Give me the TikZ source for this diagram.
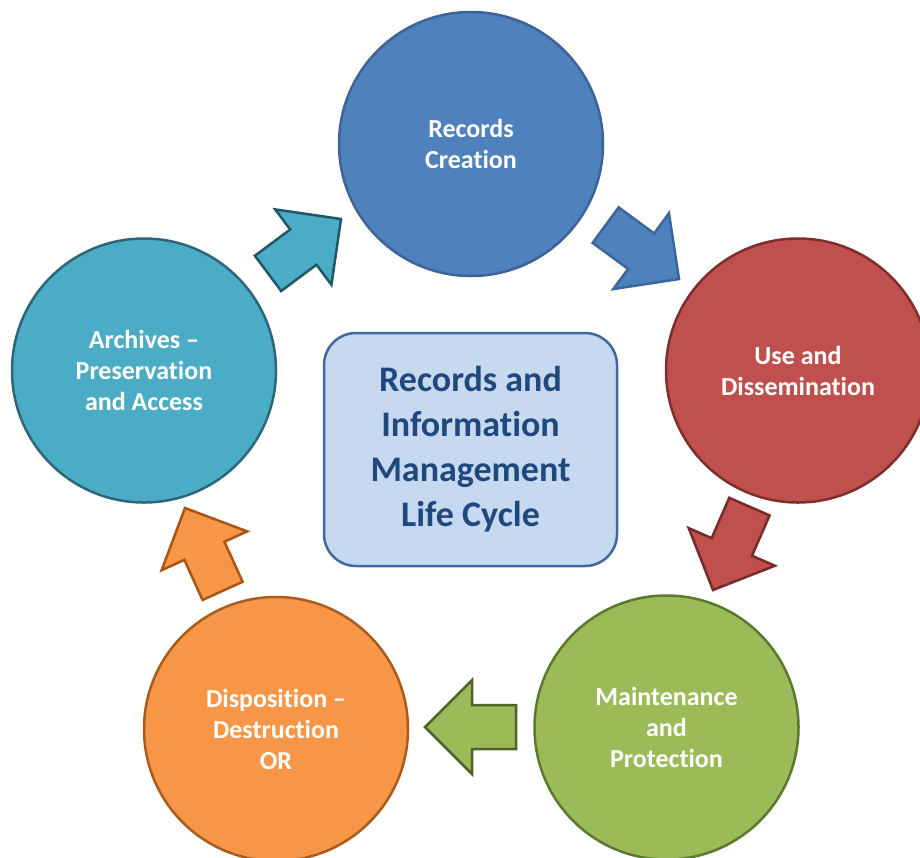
\documentclass[tikz,border=0pt]{standalone}
\usepackage{fontspec}
\setmainfont{Carlito}[Ligatures={NoCommon,NoContextual}]
\definecolor{blueF}{HTML}{4F81BD}
\definecolor{blueD}{HTML}{3D6397}
\definecolor{blueA}{HTML}{3B669C}
\definecolor{redF}{HTML}{C0504D}
\definecolor{redD}{HTML}{7E2E2C}
\definecolor{redA}{HTML}{7A2A28}
\definecolor{greenF}{HTML}{9BBB59}
\definecolor{greenD}{HTML}{5A7A2E}
\definecolor{greenA}{HTML}{4F6228}
\definecolor{orangeF}{HTML}{F79646}
\definecolor{orangeD}{HTML}{A85D1F}
\definecolor{orangeA}{HTML}{A95516}
\definecolor{tealF}{HTML}{4BACC6}
\definecolor{tealD}{HTML}{2C6779}
\definecolor{tealA}{HTML}{205867}
\definecolor{boxF}{HTML}{C6D9F1}
\definecolor{boxD}{HTML}{41699C}
\definecolor{boxT}{HTML}{1F497D}
\begin{document}
\begin{tikzpicture}[x=1pt,y=-1pt,
  stage/.style={circle, minimum size=264pt, inner sep=0pt, line width=2.5pt,
    align=center, text=white, font=\fontsize{26}{31}\selectfont\bfseries},
  blockarrow/.style={line width=2.5pt, line join=miter},
  centerbox/.style={rounded corners=32pt, minimum width=293pt, minimum height=233pt,
    inner sep=0pt, line width=2.5pt, fill=boxF, draw=boxD, align=center, text=boxT,
    font=\fontsize{36}{45}\selectfont\bfseries}]
\clip (0,0) rectangle (920,857);
\fill[white] (0,0) rectangle (920,857);

% stages
\node[stage, fill=blueF, draw=blueD] (creation) at (471,144) {Records\\Creation};
\node[stage, fill=redF, draw=redD] (use) at (798,370.5) {Use and\\Dissemination};
\node[stage, fill=greenF, draw=greenD] (maint) at (666.5,727.5) {Maintenance\\and\\Protection};
\node[stage, fill=orangeF, draw=orangeD] (disp) at (276,729) {Disposition –\\Destruction\\OR};
\node[stage, fill=tealF, draw=tealD] (arch) at (144,370.5) {Archives –\\Preservation\\and Access};

% centre
\node[centerbox] (title) at (470.5,449.5) {Records and\\Information\\Management\\Life Cycle};

% block arrows: tip at origin, pointing along +x
\def\blockpath{(0,0) -- (-47,47) -- (-47,22) -- (-91,22) -- (-91,-22) -- (-47,-22) -- (-47,-47) -- cycle}
\begin{scope}[shift={(341,219)}, rotate=36.7]
  \draw[blockarrow, fill=tealF, draw=tealA] \blockpath;
\end{scope}
\begin{scope}[shift={(679,279)}, rotate=-36.3]
  \draw[blockarrow, fill=blueF, draw=blueA] \blockpath;
\end{scope}
\begin{scope}[shift={(713,590)}, rotate=-113.6]
  \draw[blockarrow, fill=redF, draw=redA] \blockpath;
\end{scope}
\begin{scope}[shift={(425,727)}, rotate=180]
  \draw[blockarrow, fill=greenF, draw=greenA] \blockpath;
\end{scope}
\begin{scope}[shift={(185,508)}, rotate=114.4]
  \draw[blockarrow, fill=orangeF, draw=orangeA] \blockpath;
\end{scope}
\end{tikzpicture}
\end{document}
